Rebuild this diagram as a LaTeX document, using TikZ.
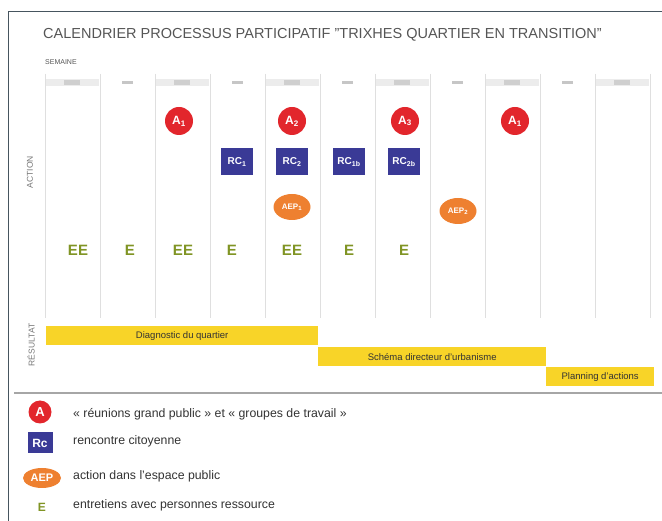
\documentclass[tikz,border=0pt]{standalone}
\usepackage{fontspec}
\setmainfont{Liberation Sans}
\usepackage{xcolor}
\definecolor{calred}{RGB}{226,38,44}
\definecolor{calblue}{RGB}{58,58,150}
\definecolor{calorange}{RGB}{238,128,48}
\definecolor{calgreen}{RGB}{128,148,36}
\definecolor{calyellow}{RGB}{248,212,40}
\definecolor{calgray}{RGB}{85,85,85}
\definecolor{calframe}{RGB}{70,85,95}
\usetikzlibrary{positioning, shapes.geometric}

\tikzset{
  meeting/.style={circle, fill=calred, text=white, inner sep=0pt, minimum size=28pt,
    font=\bfseries\fontsize{12}{12}\selectfont},
  citizen/.style={rectangle, fill=calblue, text=white, inner sep=0pt, minimum width=32pt,
    minimum height=27pt, font=\bfseries\fontsize{10}{10}\selectfont},
  public/.style={ellipse, fill=calorange, text=white, inner sep=0pt, minimum width=37pt,
    minimum height=26pt, font=\bfseries\fontsize{8}{8}\selectfont},
  interview/.style={text=calgreen, font=\bfseries\fontsize{15}{15}\selectfont},
  phase/.style={rectangle, fill=calyellow, anchor=north west, inner sep=0pt,
    minimum height=19pt, font=\fontsize{9.5}{9.5}\selectfont, text=black!80},
  sidelabel/.style={rotate=90, text=calgray!80, font=\fontsize{8.5}{8.5}\selectfont},
  legendtext/.style={anchor=west, inner sep=0pt, text=black!80, font=\fontsize{12.3}{12.3}\selectfont},
  colline/.style={gray!25, line width=0.6pt}
}

\begin{document}
\begin{tikzpicture}[x=1pt, y=-1pt]
  \useasboundingbox (0,0) rectangle (662,521);
  \def\colw{55}

  % frame of the scan
  \draw[calframe, line width=1pt] (8,521) -- (8,12) -- (662,12);

  % title and week row
  \node[anchor=west, inner sep=0pt, text=calgray, font=\fontsize{14.5}{14.5}\selectfont] (title) at (43,35)
    {CALENDRIER PROCESSUS PARTICIPATIF "TRIXHES QUARTIER EN TRANSITION"};
  \node[anchor=west, inner sep=0pt, text=calgray, font=\fontsize{7}{7}\selectfont] (week) at (45,62) {SEMAINE};

  % column rules
  \foreach \i in {0,...,11}
    \draw[colline] ({45+\colw*\i},74) -- ({45+\colw*\i},318);

  % week headers (unreadable in the scan)
  \foreach \i in {0,2,...,10} {
    \fill[gray!15] ({46+\colw*\i},79) rectangle ({99+\colw*\i},86);
    \fill[gray!38] ({64+\colw*\i},80) rectangle ({80+\colw*\i},85);
  }
  \foreach \i in {1,3,...,9}
    \fill[gray!45] ({67+\colw*\i},81) rectangle ({78+\colw*\i},84);

  % side labels
  \node[sidelabel] (action) at (30,172) {ACTION};
  \node[sidelabel] (result) at (31,345) {RÉSULTAT};

  % meetings
  \node[meeting] (a1) at (179,121) {A\textsubscript{1}};
  \node[meeting] (a2) at (292,121) {A\textsubscript{2}};
  \node[meeting] (a3) at (405,121) {A\textsubscript{3}};
  \node[meeting] (a4) at (515,121) {A\textsubscript{1}};

  % citizen meetings
  \node[citizen] (rc1) at (237,162) {RC\textsubscript{1}};
  \node[citizen] (rc2) at (292,162) {RC\textsubscript{2}};
  \node[citizen] (rc1b) at (349,162) {RC\textsubscript{1b}};
  \node[citizen] (rc2b) at (404,162) {RC\textsubscript{2b}};

  % public space actions
  \node[public] (aep1) at (292,207) {AEP\textsubscript{1}};
  \node[public] (aep2) at (458,211) {AEP\textsubscript{2}};

  % interviews
  \node[interview] (e1) at (78,250) {EE};
  \node[interview] (e2) at (130,250) {E};
  \node[interview] (e3) at (183,250) {EE};
  \node[interview] (e4) at (232,250) {E};
  \node[interview] (e5) at (292,250) {EE};
  \node[interview] (e6) at (349,250) {E};
  \node[interview] (e7) at (404,250) {E};

  % results
  \node[phase, minimum width=272pt] (diag) at (46,326) {Diagnostic du quartier};
  \node[phase, minimum width=228pt] (schema) at (318,347) {Schéma directeur d'urbanisme};
  \node[phase, minimum width=108pt] (plan) at (546,367) {Planning d'actions};

  % legend
  \draw[gray!70, line width=1.5pt] (14,393) -- (662,393);
  \node[meeting, minimum size=23pt, font=\bfseries\fontsize{13}{13}\selectfont] (keya) at (40,412) {A};
  \node[legendtext] (txta) at (73,414) {« réunions grand public » et « groupes de travail »};
  \node[citizen, minimum width=25pt, minimum height=21pt, font=\bfseries\fontsize{12}{12}\selectfont] (keyrc) at (40,443) {Rc};
  \node[legendtext] (txtrc) at (73,441) {rencontre citoyenne};
  \node[public, minimum width=38pt, minimum height=20pt, font=\bfseries\fontsize{11}{11}\selectfont] (keyaep) at (42,478) {AEP};
  \node[legendtext] (txtaep) at (73,476) {action dans l'espace public};
  \node[interview, font=\bfseries\fontsize{12}{12}\selectfont] (keye) at (42,507) {E};
  \node[legendtext] (txte) at (73,505) {entretiens avec personnes ressource};
\end{tikzpicture}
\end{document}
